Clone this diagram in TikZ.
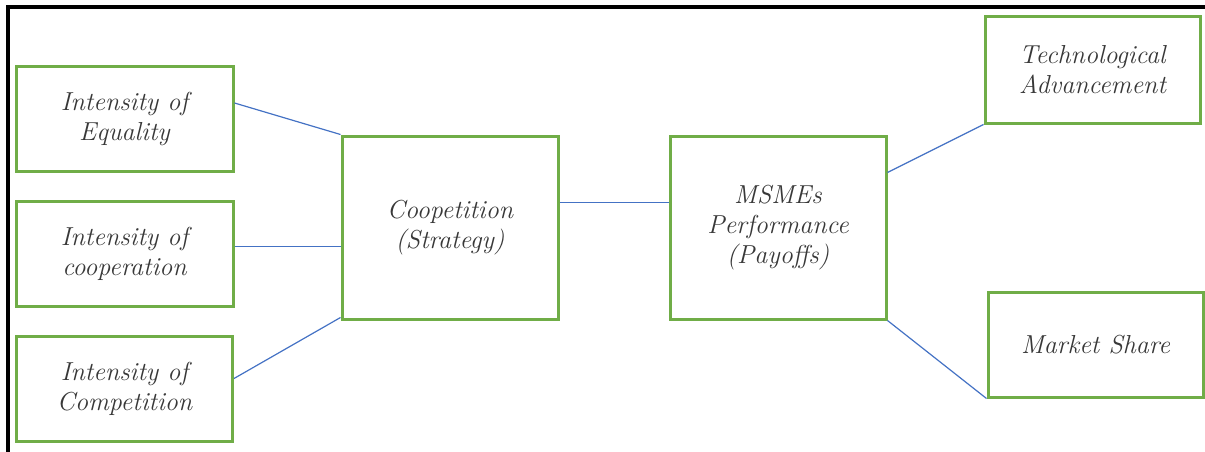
\documentclass[tikz,border=0pt]{standalone}
\usetikzlibrary{positioning}
\definecolor{boxgreen}{RGB}{112,173,71}
\definecolor{linkblue}{RGB}{68,114,196}
\definecolor{labelgray}{RGB}{56,56,56}
\tikzset{
  factor/.style={draw=boxgreen, line width=3pt, fill=white, align=center,
    text=labelgray, font=\fontsize{26}{30}\selectfont\itshape, inner sep=2pt},
  link/.style={draw=linkblue, line width=1.2pt}
}
\begin{document}
\begin{tikzpicture}[x=1pt, y=-1pt]
      \useasboundingbox (0,0) rectangle (1205,452);
      \draw[line width=3.4pt] (8,452) -- (8,7) -- (1205,7);
      \draw
        (124.5,119) node[factor, minimum width=217pt, minimum height=104pt] (equality){Intensity of\\Equality}
        (124.5,253.5) node[factor, minimum width=217pt, minimum height=105pt] (cooperation){Intensity of\\cooperation}
        (124.5,388.5) node[factor, minimum width=216pt, minimum height=105pt] (competition){Intensity of\\Competition}
        (450,227.5) node[factor, minimum width=216pt, minimum height=183pt] (strategy){Coopetition\\(Strategy)}
        (778,227.5) node[factor, minimum width=216pt, minimum height=183pt] (payoffs){MSMEs\\Performance\\(Payoffs)}
        (1092.5,70) node[factor, minimum width=215pt, minimum height=106pt] (tech){Technological\\Advancement}
        (1095.5,344.5) node[factor, minimum width=215pt, minimum height=105pt] (share){Market Share};
      \begin{scope}[link]
        \draw ([yshift=16pt]equality.east) to (strategy.north west);
        \draw ([yshift=7pt]cooperation.east) to ([yshift=7pt]cooperation.east -| strategy.west);
        \draw ([yshift=10pt]competition.east) to ([yshift=3pt]strategy.south west);
        \draw ([yshift=25pt]strategy.east) to ([yshift=25pt]payoffs.west);
        \draw ([yshift=55pt]payoffs.east) to (tech.south west);
        \draw (payoffs.south east) to (share.south west);
      \end{scope}
    \end{tikzpicture}
\end{document}
